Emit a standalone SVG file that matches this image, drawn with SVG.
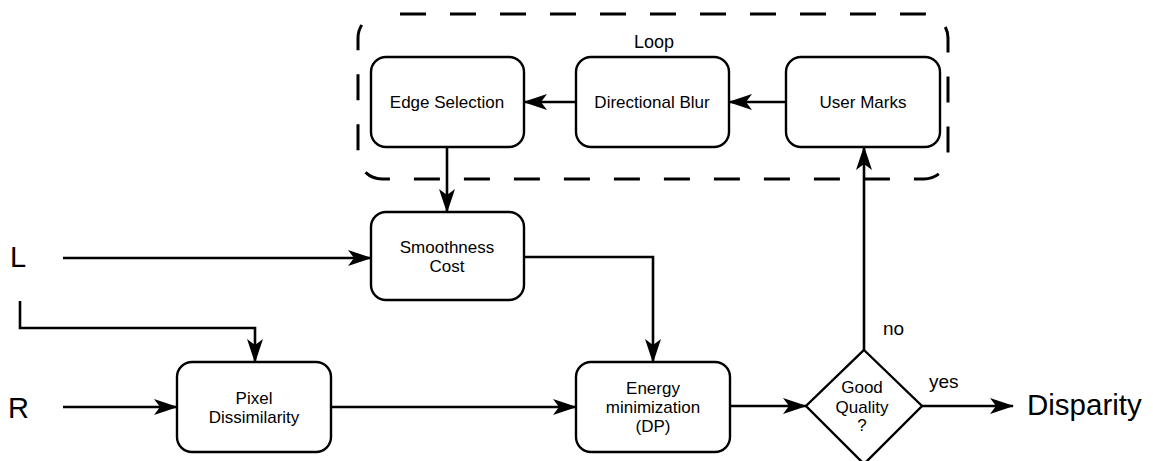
<svg xmlns="http://www.w3.org/2000/svg" width="1153" height="461" viewBox="0 0 1153 461">
<defs>
<style>
.box{fill:#fff;stroke:#000;stroke-width:2.4}
.ln{fill:none;stroke:#000;stroke-width:2.6}
.t{font-family:"Liberation Sans",Arial,sans-serif;font-size:17px;text-anchor:middle;fill:#000}
.big{font-family:"Liberation Sans",Arial,sans-serif;font-size:29px;fill:#000}
.lbl{font-family:"Liberation Sans",Arial,sans-serif;font-size:19px;fill:#000}
</style>
<marker id="ah" viewBox="0 0 24 16" refX="23" refY="8" markerWidth="24" markerHeight="16" markerUnits="userSpaceOnUse" orient="auto">
<path d="M0,0 L24,8 L0,16 L6,8 Z" fill="#000"/>
</marker>
</defs>
<rect width="1153" height="461" fill="#fff"/>
<g id="loop">
<rect x="358" y="14" width="590" height="165" rx="24" fill="none" stroke="#000" stroke-width="3" stroke-dasharray="26,24" stroke-dashoffset="-18"/>
<text class="lbl" x="654" y="48" text-anchor="middle" style="font-size:18px">Loop</text>
</g>
<g id="connectors">
<path class="ln" d="M576,102 L524,102" marker-end="url(#ah)"/>
<path class="ln" d="M786,102 L729,102" marker-end="url(#ah)"/>
<path class="ln" d="M447,147 L447,212" marker-end="url(#ah)"/>
<path class="ln" d="M63,258 L371,258" marker-end="url(#ah)"/>
<path class="ln" d="M20,301 L20,328 L255,328 L255,362" marker-end="url(#ah)"/>
<path class="ln" d="M63,407 L177,407" marker-end="url(#ah)"/>
<path class="ln" d="M331,407 L576,407" marker-end="url(#ah)"/>
<path class="ln" d="M524,257 L653,257 L653,362" marker-end="url(#ah)"/>
<path class="ln" d="M730,406 L806,406" marker-end="url(#ah)"/>
<path class="ln" d="M864,350 L864,147" marker-end="url(#ah)"/>
<path class="ln" d="M922,406 L1013,406" marker-end="url(#ah)"/>
</g>
<g id="edge-selection">
<rect class="box" x="371" y="57" width="153" height="90" rx="15"/>
<text class="t" x="447" y="108">Edge Selection</text>
</g>
<g id="directional-blur">
<rect class="box" x="576" y="57" width="153" height="90" rx="15"/>
<text class="t" x="652" y="108">Directional Blur</text>
</g>
<g id="user-marks">
<rect class="box" x="786" y="57" width="154" height="90" rx="15"/>
<text class="t" x="863" y="108">User Marks</text>
</g>
<g id="smoothness-cost">
<rect class="box" x="371" y="212" width="153" height="88" rx="15"/>
<text class="t" x="447" y="253">Smoothness</text>
<text class="t" x="447" y="272">Cost</text>
</g>
<g id="pixel-dissimilarity">
<rect class="box" x="177" y="362" width="154" height="90" rx="15"/>
<text class="t" x="254" y="404">Pixel</text>
<text class="t" x="254" y="423">Dissimilarity</text>
</g>
<g id="energy-minimization">
<rect class="box" x="576" y="362" width="154" height="90" rx="15"/>
<text class="t" x="653" y="394">Energy</text>
<text class="t" x="653" y="413">minimization</text>
<text class="t" x="653" y="432">(DP)</text>
</g>
<g id="good-quality">
<path class="box" d="M864,350 L922,406 L864,464 L806,406 Z"/>
<text class="t" x="862" y="393">Good</text>
<text class="t" x="862" y="413">Quality</text>
<text class="t" x="862" y="431">?</text>
</g>
<g id="labels">
<text class="big" x="10" y="267">L</text>
<text class="big" x="8" y="418">R</text>
<text class="big" x="1027" y="415" style="font-size:29.5px">Disparity</text>
<text class="lbl" x="883" y="335">no</text>
<text class="lbl" x="929" y="388">yes</text>
</g>
</svg>
